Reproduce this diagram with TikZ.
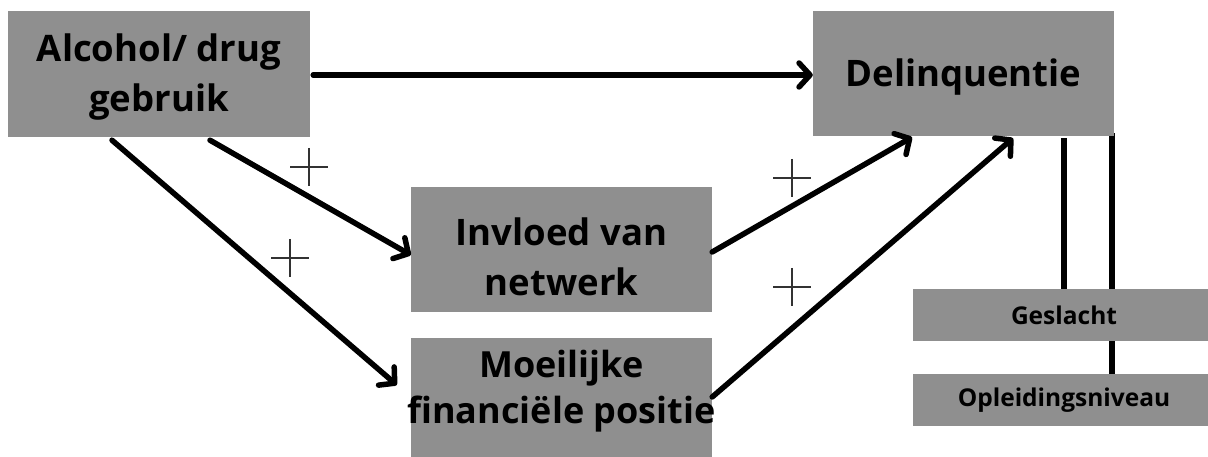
\documentclass[tikz,border=0pt]{standalone}
\usepackage{fontspec}
\setmainfont{Open Sans}
\usetikzlibrary{arrows.meta,calc,backgrounds}
\definecolor{boxgray}{RGB}{143,143,143}
\definecolor{plusgray}{RGB}{50,50,50}
\begin{document}
\begin{tikzpicture}[x=1pt,y=-1pt,
  box/.style={fill=boxgray, draw=none, inner sep=0pt, minimum width=301pt, minimum height=125pt,
    align=center, font=\fontsize{36.5}{50}\selectfont\bfseries},
  smallbox/.style={fill=boxgray, draw=none, inner sep=0pt, minimum width=302pt, minimum height=52pt,
    font=\fontsize{24.5}{30}\selectfont\bfseries},
  arr/.style={line width=5.5pt, line cap=round, -{Straight Barb[length=11pt,width=24pt,round]}},
  link/.style={line width=5.5pt},
  plusmark/.style={minimum size=38pt, inner sep=0pt,
    path picture={\draw[plusgray,line width=2.5pt]
      (path picture bounding box.north) -- (path picture bounding box.south)
      (path picture bounding box.west) -- (path picture bounding box.east);}}]
\useasboundingbox (0,0) rectangle (1208,457);
% boxes
\node[box, minimum width=302pt, minimum height=126pt] (alc) at (159,74) {\rule{0pt}{33pt}Alcohol/ drug\\gebruik};
\node[box] (del) at (963.5,73.5) {\rule{0pt}{34pt}Delinquentie};
\node[box] (inv) at (561.5,249.5) {\rule{0pt}{42pt}Invloed van\\netwerk};
\node[box, font=\fontsize{36}{46}\selectfont\bfseries] (moe) at (561.5,400.5) {Moeilijke\\\makebox[301pt]{financiële positie}\rule[-27pt]{0pt}{27pt}};
\node[smallbox] (gesl) at (1064,315) {Geslacht};
\node[smallbox] (opl) at (1064,400) {Opleidingsniveau};
% plus marks
\node[plusmark] (p1) at (309,167) {};
\node[plusmark] (p2) at (290,258) {};
\node[plusmark] (p3) at (792,178) {};
\node[plusmark] (p4) at (792,287) {};
% arrows
\draw[arr] ([xshift=3pt,yshift=-1pt]alc.east) -- ([yshift=-1pt]alc.east -| del.west);
\draw[arr] ([xshift=51pt,yshift=-3pt]alc.south) -- ([yshift=-5.5pt]inv.west);
\draw[arr] ([xshift=-47pt,yshift=-3pt]alc.south) -- ([xshift=-14pt,yshift=15.5pt]moe.west);
\draw[arr] ([yshift=-2.5pt]inv.east) -- ([xshift=-51.5pt,yshift=-1pt]del.south);
\draw[arr] ([yshift=3.5pt]moe.east) -- ([xshift=49.5pt,yshift=-2pt]del.south);
% lines to control variables
\begin{scope}[on background layer]
\draw[link] ([xshift=-2pt,yshift=3pt]del.south east) -- ([xshift=-2pt]del.south east |- opl.north);
\draw[link] ([yshift=-2pt]gesl.north |- del.south) -- (gesl.north);
\end{scope}
\end{tikzpicture}
\end{document}
